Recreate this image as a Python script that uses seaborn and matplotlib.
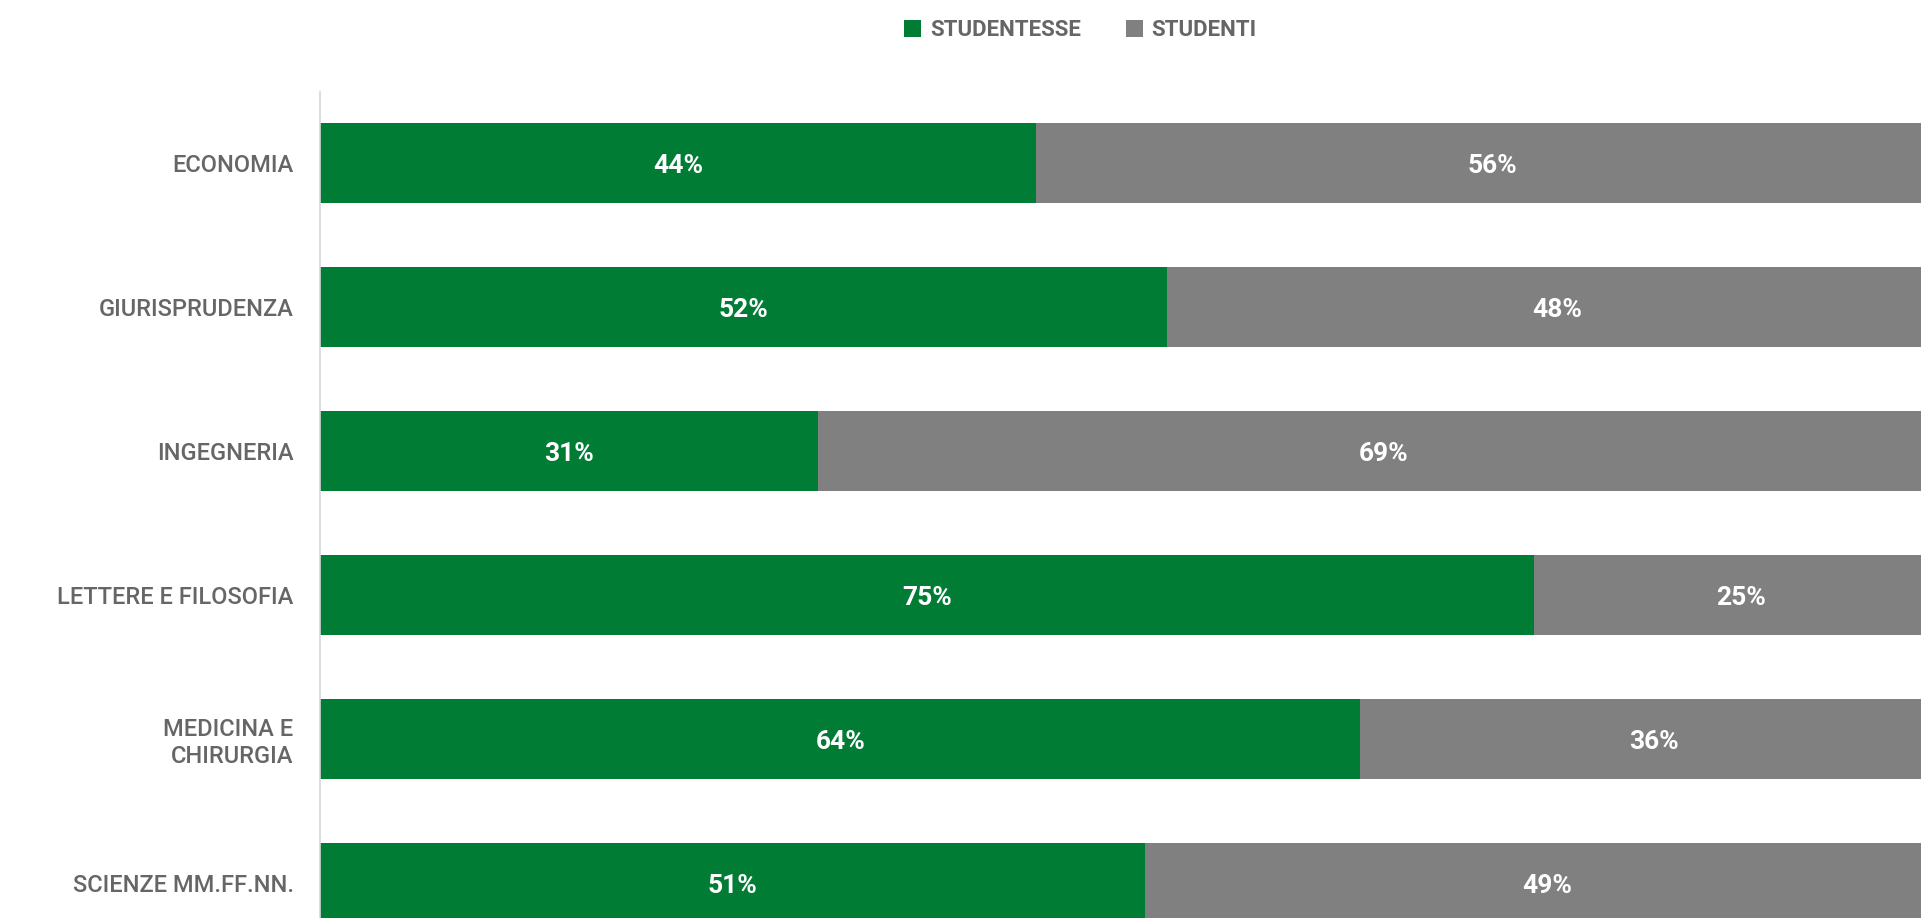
import numpy as np
import pandas as pd
import matplotlib
matplotlib.use("Agg")
import matplotlib.pyplot as plt
import seaborn as sns
from matplotlib.patches import Patch

# data (shares in %, labels shown rounded)
facolta = ["ECONOMIA", "GIURISPRUDENZA", "INGEGNERIA", "LETTERE E FILOSOFIA",
           "MEDICINA E\nCHIRURGIA", "SCIENZE MM.FF.NN."]
studentesse = [44.0, 52.0, 30.6, 74.6, 63.9, 50.7]
studenti = [56.0, 48.0, 69.4, 25.4, 36.1, 49.3]
legend_labels = ["STUDENTESSE", "STUDENTI"]

GREEN = "#007c35"
GREY = "#808080"
TEXT = "#666666"

sns.set_theme(style="white")
plt.rcParams["font.family"] = ["Roboto", "DejaVu Sans"]

df = pd.DataFrame({"facolta": facolta, "Studentesse": studentesse, "Studenti": studenti})
df["totale"] = df["Studentesse"] + df["Studenti"]

W, H = 1921, 918
fig = plt.figure(figsize=(W / 100, H / 100), dpi=100)
# plot area runs past the right and bottom edge, as in the reference crop
ax = fig.add_axes([320 / W, -37 / H, 1628 / W, 863 / H])

# stacked bars: grey total underneath, green share on top
sns.barplot(data=df, y="facolta", x="totale", color=GREY, width=0.55,
            saturation=1, linewidth=0, orient="h", ax=ax)
sns.barplot(data=df, y="facolta", x="Studentesse", color=GREEN, width=0.55,
            saturation=1, linewidth=0, orient="h", ax=ax)

ax.set_xlim(0, 100)
ax.set_ylim(5.5, -0.493)

for i, (f, m) in enumerate(zip(studentesse, studenti)):
    ax.text(f / 2, i + 0.02, f"{f:.0f}%", ha="center", va="center", color="white",
            fontsize=19, fontweight="bold")
    ax.text(f + m / 2, i + 0.02, f"{m:.0f}%", ha="center", va="center", color="white",
            fontsize=19, fontweight="bold")

for s in ["top", "right", "bottom"]:
    ax.spines[s].set_visible(False)
ax.spines["left"].set_color("#d6d6d6")
ax.spines["left"].set_linewidth(1.2)
ax.set_xticks([])
ax.set_xlabel("")
ax.set_ylabel("")
ax.tick_params(axis="y", length=0, pad=19, labelsize=17, labelcolor=TEXT)
for lbl in ax.get_yticklabels():
    lbl.set_fontweight("medium")

handles = [Patch(facecolor=GREEN, edgecolor="none"), Patch(facecolor=GREY, edgecolor="none")]
leg = fig.legend(handles, legend_labels, loc="center", bbox_to_anchor=(0.5625, 0.967),
                 ncol=2, frameon=False, fontsize=16, handlelength=0.77,
                 handleheight=0.77, handletextpad=0.4, columnspacing=2.0)
for t in leg.get_texts():
    t.set_color(TEXT)
    t.set_fontweight("bold")

fig.savefig("out.png", dpi=100)
